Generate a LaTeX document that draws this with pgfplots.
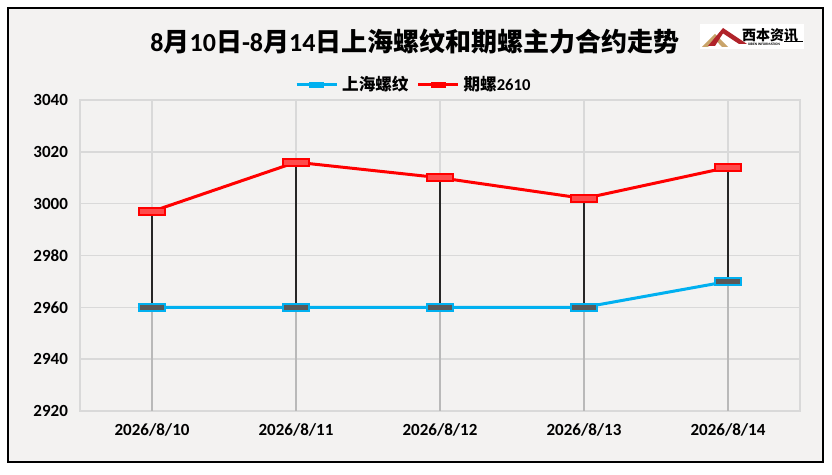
\documentclass[border=0pt]{standalone}
\usepackage{fontspec}
\setmainfont{Carlito}
\newfontfamily\cjk{Noto Sans CJK SC}
\usepackage{pgfplots}
\pgfplotsset{compat=1.18}
\definecolor{bg}{HTML}{F3F2F1}
\definecolor{gridc}{HTML}{D9D9D9}
\definecolor{sblue}{HTML}{00B0F0}
\definecolor{mgray}{HTML}{595959}
\definecolor{sred}{HTML}{FF0000}
\definecolor{mred}{HTML}{FF4B4B}
\definecolor{logored}{HTML}{B0232A}
\definecolor{logogold}{HTML}{C9A46A}
\pgfdeclareplotmark{wrect}{\pgfpathrectangle{\pgfqpoint{-6.5pt}{-1.8pt}}{\pgfqpoint{13pt}{3.6pt}}\pgfusepathqfillstroke}
\begin{document}
\begin{tikzpicture}[x=1pt,y=1pt]
\path[use as bounding box, fill=white] (0,0) rectangle (416,237.5);
\draw[fill=bg, line width=1pt] (4,6.5) rectangle (411.5,233.5);
\node[font=\bfseries\fontsize{13}{15}\selectfont] at (207.5,216.5) {8{\cjk 月}10{\cjk 日}-8{\cjk 月}14{\cjk 日}{\cjk 上海螺纹和期螺主力合约走势}};
% logo
\fill[white] (350,213) rectangle (402,225.5);
\fill[logogold] (351,214) -- (357.5,220.5) -- (364,214) -- (361,214) -- (357.5,217.8) -- (354,214) -- cycle;
\fill[logored] (354,214.5) -- (361.5,223.5) -- (373.5,215.5) -- (369.5,215.5) -- (361.5,220.8) -- (357.5,214.5) -- cycle;
\node[font=\cjk\bfseries\fontsize{7}{8}\selectfont, inner sep=0pt] at (385,220) {西本资讯};
\draw[line width=0.4pt] (392,216.6) -- (401.5,216.6);
\node[font=\bfseries\fontsize{1.8}{2}\selectfont, inner sep=0pt] at (382,215.2) {XIBEN INFORMATION};
\begin{axis}[
  at={(40pt,32pt)}, anchor=south west,
  scale only axis, width=360pt, height=155.5pt,
  xmin=-0.5, xmax=4.5, ymin=2920, ymax=3040,
  xtick={0,1,2,3,4},
  xticklabels={2026/8/10,2026/8/11,2026/8/12,2026/8/13,2026/8/14},
  ytick={2920,2940,2960,2980,3000,3020,3040},
  grid=major, major grid style={gridc, line width=0.8pt},
  axis line style={gridc, line width=0.8pt},
  tick style={draw=none},
  /pgf/number format/assume math mode=true,
  /pgf/number format/1000 sep={},
  ticklabel style={font=\bfseries\fontsize{8.5}{10}\selectfont},
  yticklabel style={xshift=-2.5pt},
  xticklabel style={yshift=-3pt},
  legend style={at={(0.465,1)}, anchor=center, yshift=7.5pt, draw=none, fill=none,
    font=\bfseries\fontsize{8.3}{10}\selectfont,
    /tikz/every even column/.append style={column sep=2pt}},
  legend columns=2,
]
\addlegendimage{legend image code/.code={\draw[sblue, line width=1.5pt] (0pt,0pt) -- (20pt,0pt); \fill[sblue] (6.5pt,-1.4pt) rectangle (13.5pt,1.4pt);}}
\addlegendentry{{\cjk 上海螺纹}}
\addlegendimage{legend image code/.code={\draw[sred, line width=1.5pt] (0pt,0pt) -- (20pt,0pt); \fill[sred] (6.5pt,-1.4pt) rectangle (13.5pt,1.4pt);}}
\addlegendentry{{\cjk 期螺}2610}
\addplot[forget plot, sblue, line width=1.5pt, mark=wrect, mark options={draw=sblue, fill=mgray, line width=1pt}]
  coordinates {(0,2960)(1,2960)(2,2960)(3,2960)(4,2970)};
\addplot[forget plot, sred, line width=1.5pt, mark=wrect, mark options={draw=sred, fill=mred, line width=1pt}]
  coordinates {(0,2997)(1,3016)(2,3010)(3,3002)(4,3014)};
% drop lines: gray below, black between the two series
\addplot[forget plot, ycomb, gray!55, line width=0.9pt, mark=none]
  coordinates {(0,2960)(1,2960)(2,2960)(3,2960)(4,2970)};
\addplot[forget plot, draw=none, mark=none,
  error bars/.cd, y dir=minus, y explicit, error mark=none,
  error bar style={black!85, line width=0.9pt}]
  coordinates {(0,2997) -= (0,37) (1,3016) -= (0,56) (2,3010) -= (0,50) (3,3002) -= (0,42) (4,3014) -= (0,44)};
\end{axis}
\end{tikzpicture}
\end{document}
